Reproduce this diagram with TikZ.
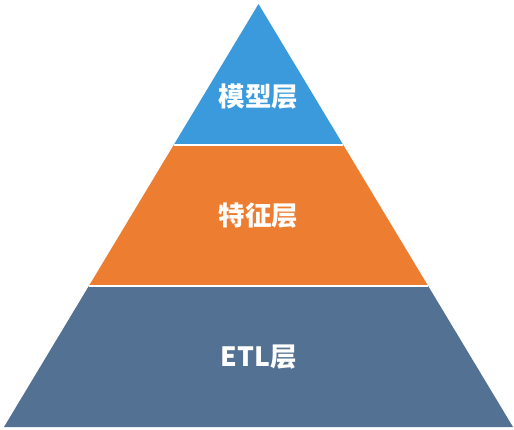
\documentclass[tikz,border=0pt]{standalone}
\usepackage{fontspec}
\newfontfamily\cjk{Noto Sans CJK SC}
\usepackage{tikz}
\usetikzlibrary{calc}

\definecolor{modelblue}{HTML}{3A9ADB}
\definecolor{featorange}{HTML}{ED7D31}
\definecolor{etlslate}{HTML}{527193}

\begin{document}
\begin{tikzpicture}[
  x=1pt, y=-1pt,
  layer/.style={font=\cjk\bfseries\fontsize{26.5}{26.5}\selectfont, text=white},
  gap/.style={draw=white, line width=2pt}
]
  \useasboundingbox (0,0) rectangle (514,430);

  % Outline
  \coordinate (apex) at (258.5,4);
  \coordinate (bl) at (4,427);
  \coordinate (br) at (513,427);
  \coordinate (l1) at ($(apex)!0.3333!(bl)$);
  \coordinate (r1) at ($(apex)!0.3333!(br)$);
  \coordinate (l2) at ($(apex)!0.6667!(bl)$);
  \coordinate (r2) at ($(apex)!0.6667!(br)$);

  % Layers
  \fill[modelblue] (apex) -- (l1) -- (r1) -- cycle;
  \fill[featorange] (l1) -- (l2) -- (r2) -- (r1) -- cycle;
  \fill[etlslate] (l2) -- (bl) -- (br) -- (r2) -- cycle;
  \draw[gap] (l1) -- (r1);
  \draw[gap] (l2) -- (r2);

  % Labels
  \node[layer] (model) at (258.5,97) {模型层};
  \node[layer] (feature) at (258.5,216) {特征层};
  \node[layer] (etl) at (258.5,357) {ETL层};
\end{tikzpicture}
\end{document}
